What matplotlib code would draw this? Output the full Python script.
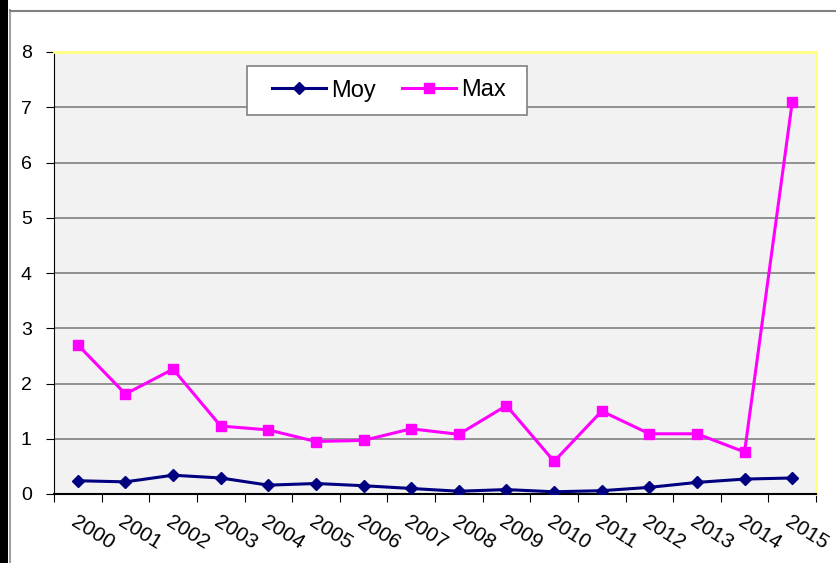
import numpy as np
import matplotlib.pyplot as plt
from matplotlib.patches import Rectangle
from matplotlib.lines import Line2D

years = ['2000', '2001', '2002', '2003', '2004', '2005', '2006', '2007',
         '2008', '2009', '2010', '2011', '2012', '2013', '2014', '2015']
moy = [0.24, 0.22, 0.34, 0.29, 0.16, 0.19, 0.15, 0.10,
       0.05, 0.08, 0.04, 0.06, 0.12, 0.21, 0.27, 0.29]
vmax = [2.70, 1.81, 2.26, 1.23, 1.16, 0.95, 0.97, 1.18,
        1.08, 1.60, 0.59, 1.50, 1.09, 1.09, 0.76, 7.09]
yticks = [0, 1, 2, 3, 4, 5, 6, 7, 8]

plt.rcParams['font.family'] = ['Liberation Sans', 'DejaVu Sans']

W, H = 836, 563
fig = plt.figure(figsize=(W / 100, H / 100), dpi=100)

# outer frame: black strip at the left, gray border lines
fig.patches.append(Rectangle((0, 0), 8 / W, 1, transform=fig.transFigure,
                             facecolor='black', edgecolor='none'))
fig.lines.append(Line2D([9.5 / W, 9.5 / W], [0, 1 - 10 / H], transform=fig.transFigure,
                        color='#a0a0a0', lw=1.5))
fig.lines.append(Line2D([9.5 / W, 1], [1 - 10.5 / H, 1 - 10.5 / H], transform=fig.transFigure,
                        color='#808080', lw=1.5))

left, right, top, bottom = 54, 816, 52, 494
ax = fig.add_axes([left / W, 1 - bottom / H, (right - left) / W, (bottom - top) / H])
ax.set_facecolor('#f2f2f2')

x = np.arange(len(years))
ax.plot(x, moy, color='#000080', lw=2.2, marker='D', markersize=6.5, label='Moy', zorder=3)
ax.plot(x, vmax, color='#ff00ff', lw=2.2, marker='s', markersize=7.5, label='Max', zorder=3)

ax.set_xlim(-0.5, len(years) - 0.5)
ax.set_ylim(0, 8)
ax.set_yticks(yticks)
ax.set_yticklabels([str(v) for v in yticks], fontsize=14)
ax.yaxis.grid(True, color='#808080', lw=1.2)
ax.set_axisbelow(True)

ax.set_xticks(np.arange(len(years) + 1) - 0.5)
ax.set_xticklabels([])
ax.set_xticks(x, minor=True)
ax.set_xticklabels(years, minor=True, rotation=-32, ha='left', va='top',
                   rotation_mode='anchor', fontsize=15)
ax.tick_params(axis='x', which='minor', length=0, pad=13)
ax.tick_params(axis='x', which='major', length=6, color='black')
ax.tick_params(axis='y', length=6, color='black', pad=10)

for s in ['top', 'right']:
    ax.spines[s].set_color('#ffff80')
    ax.spines[s].set_linewidth(2)
ax.spines['left'].set_color('black')
ax.spines['bottom'].set_color('black')
ax.spines['bottom'].set_linewidth(1.5)

# legend box drawn separately, entries placed inside it
box = Rectangle((247 / W, 1 - 115 / H), 280 / W, 49 / H, transform=fig.transFigure,
                facecolor='white', edgecolor='#808080', lw=1.2, zorder=4)
ax.add_artist(box)
box.set_clip_on(False)
leg = ax.legend(loc='center left',
                bbox_to_anchor=((272 - left) / (right - left), 1 - (90.5 - top) / (bottom - top)),
                ncol=2, fontsize=17, frameon=False, borderaxespad=0, borderpad=0,
                handlelength=2.3, columnspacing=1.1, handletextpad=0.2)
leg.set_zorder(5)

fig.savefig('out.png', dpi=100)
